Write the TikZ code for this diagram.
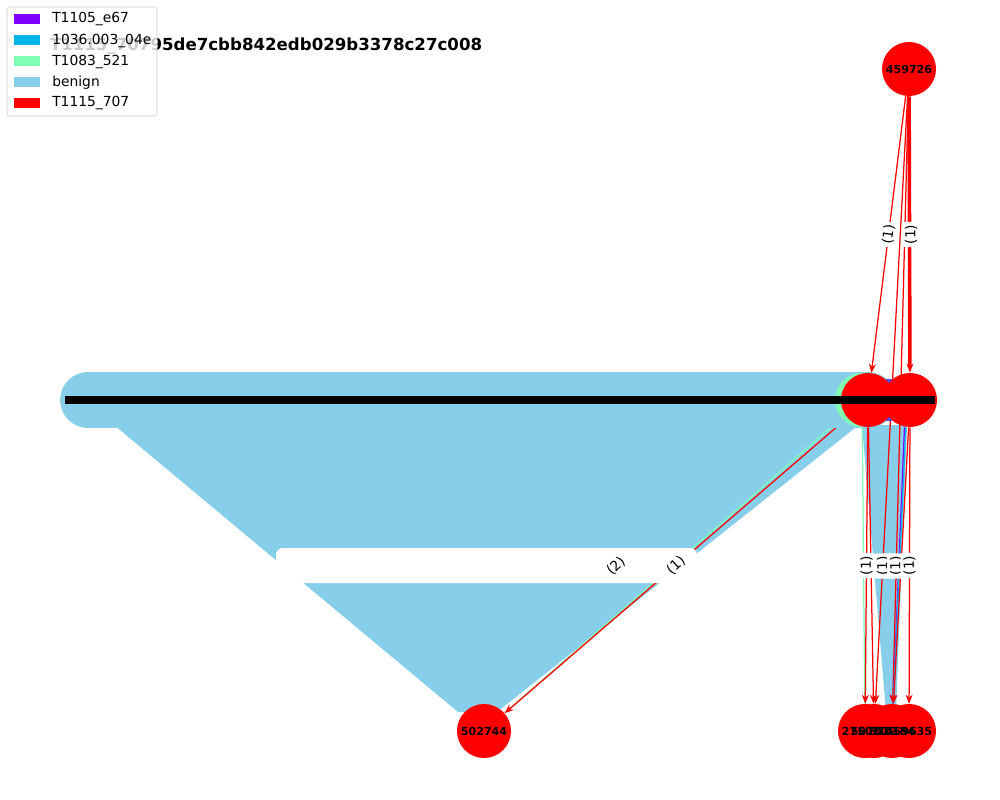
\documentclass[tikz,border=0pt]{standalone}
\usepackage{fontspec}
\setmainfont{DejaVu Sans}
\usetikzlibrary{arrows.meta,calc}
\definecolor{cpur}{HTML}{8000FF}
\definecolor{cblu}{HTML}{01B5EB}
\definecolor{cgrn}{HTML}{80FFB4}
\definecolor{sky}{HTML}{87CEEB}
\pgfdeclarelayer{bg}
\pgfdeclarelayer{fg}
\pgfsetlayers{bg,main,fg}
\begin{document}
\begin{tikzpicture}[x=0.01in,y=-0.01in,
  gnode/.style={circle, minimum size=0.54in, inner sep=0pt, draw=none},
  nlbl/.style={font=\bfseries\fontsize{8}{9}\selectfont, inner sep=0pt},
  redge/.style={draw=red, line width=0.9pt, -{Stealth[length=6.5pt,width=5pt]}},
  thinedge/.style={line width=0.9pt},
  elbl/.style={font=\fontsize{10}{12}\selectfont, fill=white, rounded corners=2pt, inner sep=2pt},
  legtxt/.style={font=\fontsize{10}{12}\selectfont, anchor=west, inner sep=0pt},
]
\useasboundingbox (0,0) rectangle (1000,800);

% ---- nodes
\node[gnode, fill=sky] (src) at (88,400) {};
\node[gnode, fill=cgrn] (cg) at (862,400) {};
\node[gnode, fill=cblu!45!cpur, minimum size=0.42in] (cb) at (889,400) {};
\node[gnode, fill=red] (r1) at (868,400) {};
\node[gnode, fill=red] (r2) at (910,400) {};
\node[gnode, fill=red] (top) at (909,69) {};
\node[gnode, fill=red] (n5) at (484,731) {};
\node[gnode, fill=red] (b1) at (865,731) {};
\node[gnode, fill=red] (b2) at (874,731) {};
\node[gnode, fill=red] (b3) at (892,731) {};
\node[gnode, fill=red] (b4) at (909,731) {};

\node[nlbl] (ttop) at (top) {459726};
\node[nlbl] (tn5) at (n5) {502744};
\node[nlbl] (tb1) at (b1) {275070};
\node[nlbl] (tb2) at (b2) {507072};
\node[nlbl] (tb3) at (b3) {820184};
\node[nlbl] (tb4) at (b4) {459635};
\fill[black] (65,396) rectangle (935,404);

% ---- edges
\begin{pgfonlayer}{bg}
  \fill[sky] (108,420) -- (865,420) -- (497,712) -- (458,712) -- cycle;
  \draw[cgrn, thinedge] (cg) -- (n5);
  \draw[redge] (r1) -- (n5);
  \draw[sky, line width=40.3pt, line cap=round] (src.center) -- (r1.center);
  \fill[white, rounded corners=5pt] (276,548) rectangle (697,583);

  \fill[sky] (862,425) -- (907,425) -- (896,712) -- (886,712) -- cycle;
  \draw[cgrn, thinedge] (cg) -- (b1);
  \draw[redge] (r1) -- (b1);
  \draw[redge] (r1) -- (b2);
  \draw[redge] (top) -- (b2);
  \draw[redge] (top) -- (b3);
  \draw[cpur, thinedge] ([xshift=-4pt]r2.south) -- (b3);
  \draw[cblu, thinedge] ([xshift=-3pt]r2.south) -- (b3);
  \draw[redge] ([xshift=-1pt]r2.south) -- (b3);
  \draw[redge] (r2) -- (b4);

  \draw[redge] (top) -- (r1);
  \draw[redge, line width=2.6pt] (top) -- (r2);
\end{pgfonlayer}

% ---- edge labels, title, legend
\begin{pgfonlayer}{fg}
  \node[elbl, rotate=82.8] (l1) at ($(top)!0.5!(r1)$) {(1)};
  \node[elbl, rotate=90] (l2) at ($(top)!0.5!(r2)+(1.5,0)$) {(1)};
  \node[elbl, rotate=43] (l4) at (616,566) {(2)};
  \node[elbl, rotate=43] (l3) at ($(r1)!0.5!(n5)$) {(1)};
  \node[elbl, rotate=90] (l5) at (883,566) {(1)};
  \node[elbl, rotate=90] (l6) at (896,566) {(1)};
  \node[elbl, rotate=90] (l7) at ($(r1)!0.5!(b1)$) {(1)};
  \node[elbl, rotate=90] (l8) at ($(r2)!0.5!(b4)$) {(1)};

  \node[font=\bfseries\fontsize{12}{14}\selectfont, inner sep=0pt] (title) at (266,46) {T1115\_70795de7cbb842edb029b3378c27c008};

  \draw[draw=black!20, fill=white, fill opacity=0.8, rounded corners=2pt] (7,7) rectangle (157,116);
  \fill[cpur] (14,14) rectangle (40,24);
  \fill[cblu] (14,35.5) rectangle (40,45.5);
  \fill[cgrn] (14,56.5) rectangle (40,66.5);
  \fill[sky] (14,77.5) rectangle (40,87.5);
  \fill[red] (14,98) rectangle (40,108);
  \node[legtxt] (g1) at (52,19) {T1105\_e67};
  \node[legtxt] (g2) at (52,40.5) {1036.003\_04e};
  \node[legtxt] (g3) at (52,61.5) {T1083\_521};
  \node[legtxt] (g4) at (52,82.5) {benign};
  \node[legtxt] (g5) at (52,103) {T1115\_707};
\end{pgfonlayer}
\end{tikzpicture}
\end{document}
